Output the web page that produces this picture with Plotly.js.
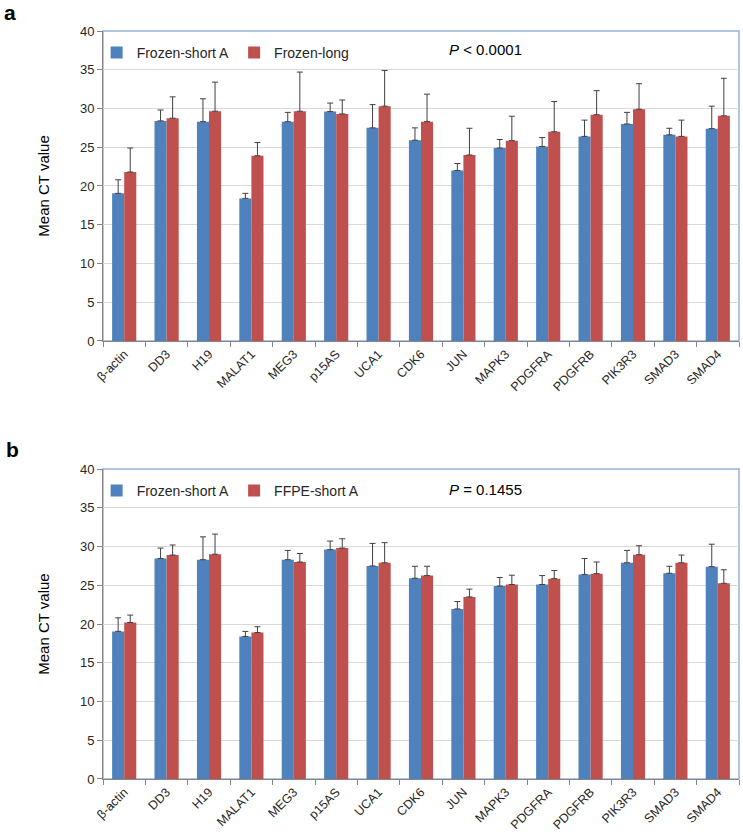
<!DOCTYPE html>
<html>
<head>
<meta charset="utf-8">
<script src="https://cdn.plot.ly/plotly-3.0.1.min.js"></script>
<style>html,body{margin:0;padding:0;background:#fff;}#chart{width:743px;height:832px;}</style>
</head>
<body>
<div id="chart"></div>
<script>
const genes = ["β-actin","DD3","H19","MALAT1","MEG3","p15AS","UCA1","CDK6","JUN","MAPK3","PDGFRA","PDGFRB","PIK3R3","SMAD3","SMAD4"];

// Panel a
const frozenShortA = [19.05,28.4,28.3,18.4,28.3,29.6,27.5,25.9,22.0,24.9,25.1,26.4,28.0,26.6,27.4];
const frozenShortA_err = [1.75,1.4,2.95,0.65,1.2,1.1,3.0,1.6,0.9,1.1,1.15,2.1,1.5,0.85,2.9];
const frozenLong = [21.8,28.75,29.65,23.9,29.65,29.3,30.3,28.3,24.0,25.85,27.0,29.2,29.9,26.4,29.05];
const frozenLong_err = [3.1,2.75,3.75,1.7,5.05,1.8,4.6,3.55,3.45,3.15,3.9,3.1,3.3,2.1,4.85];

// Panel b
const frozenShortB = [19.05,28.45,28.3,18.4,28.3,29.6,27.5,25.9,21.95,24.9,25.1,26.4,27.9,26.55,27.4];
const frozenShortB_err = [1.75,1.35,2.95,0.65,1.2,1.1,2.9,1.55,0.95,1.1,1.15,2.05,1.6,0.9,2.9];
const ffpeShortA = [20.2,28.9,29.0,18.9,28.0,29.8,27.9,26.25,23.5,25.1,25.85,26.5,28.95,27.9,25.25];
const ffpeShortA_err = [0.95,1.3,2.6,0.75,1.1,1.2,2.6,1.2,1.0,1.2,1.05,1.5,1.15,1.0,1.75];

const zeros = genes.map(() => 0);
const BLUE = "#4F81BD", RED = "#C0504D", ERR = "#404040";

function barTrace(y, err, name, color, xa, ya, legend) {
  return {
    type: "bar", x: genes, y: y, name: name, xaxis: xa, yaxis: ya, legend: legend,
    marker: {color: color, line: {width: 0}},
    error_y: {type: "data", symmetric: false, array: err, arrayminus: zeros,
              color: ERR, thickness: 1, width: 3}
  };
}

const data = [
  barTrace(frozenShortA, frozenShortA_err, "Frozen-short A", BLUE, "x", "y", "legend"),
  barTrace(frozenLong, frozenLong_err, "Frozen-long", RED, "x", "y", "legend"),
  barTrace(frozenShortB, frozenShortB_err, "Frozen-short A", BLUE, "x2", "y2", "legend2"),
  barTrace(ffpeShortA, ffpeShortA_err, "FFPE-short A", RED, "x2", "y2", "legend2")
];

const FONT = "Liberation Sans, Arial, sans-serif";
function xax(anchor) {
  return {
    anchor: anchor, domain: [0, 1], type: "category",
    showline: true, linecolor: "#868686", linewidth: 1,
    ticks: "outside", tickson: "boundaries", ticklen: 5, tickcolor: "#868686",
    tickangle: -45, tickfont: {family: FONT, size: 12.5, color: "#262626"},
    showgrid: false, automargin: false, fixedrange: true
  };
}
function yax(anchor, domain) {
  return {
    anchor: anchor, domain: domain, range: [0, 40], dtick: 5, tick0: 0,
    showline: true, linecolor: "#868686", linewidth: 1,
    ticks: "outside", ticklen: 5, tickcolor: "#868686",
    tickfont: {family: FONT, size: 13, color: "#262626"},
    showgrid: true, gridcolor: "#D9D9D9", gridwidth: 1, zeroline: false,
    title: {text: "Mean CT value", font: {family: FONT, size: 15, color: "#000"}, standoff: 26},
    automargin: false, fixedrange: true
  };
}

const layout = {
  width: 743, height: 832,
  margin: {l: 103, r: 4, t: 31, b: 53},
  paper_bgcolor: "#fff", plot_bgcolor: "#fff",
  font: {family: FONT},
  barmode: "group", bargap: 0.43, bargroupgap: 0,
  xaxis: xax("y"), yaxis: yax("x", [0.5856, 1]),
  xaxis2: xax("y2"), yaxis2: yax("x2", [0, 0.4144]),
  legend: {orientation: "h", x: -0.01, xanchor: "left", y: 0.9706, yanchor: "middle",
           bgcolor: "rgba(0,0,0,0)", font: {family: FONT, size: 14, color: "#262626"}, traceorder: "normal"},
  legend2: {orientation: "h", x: -0.01, xanchor: "left", y: 0.385, yanchor: "middle",
           bgcolor: "rgba(0,0,0,0)", font: {family: FONT, size: 14, color: "#262626"}, traceorder: "normal"},
  shapes: [
    {type: "rect", xref: "x domain", yref: "y domain", x0: 0, x1: 1, y0: 0, y1: 1,
     line: {color: "#95B3D7", width: 1.5}, layer: "below"},
    {type: "rect", xref: "x2 domain", yref: "y2 domain", x0: 0, x1: 1, y0: 0, y1: 1,
     line: {color: "#95B3D7", width: 1.5}, layer: "below"}
  ],
  annotations: [
    {text: "<i>P</i> < 0.0001", xref: "paper", yref: "paper", x: 0.602, y: 0.9746,
     xanchor: "center", yanchor: "middle", showarrow: false, font: {family: FONT, size: 15, color: "#000"}},
    {text: "<i>P</i> = 0.1455", xref: "paper", yref: "paper", x: 0.602, y: 0.3877,
     xanchor: "center", yanchor: "middle", showarrow: false, font: {family: FONT, size: 15, color: "#000"}},
    {text: "<b>a</b>", xref: "paper", yref: "paper", x: -0.147, y: 1.025,
     xanchor: "center", yanchor: "middle", showarrow: false, borderpad: 0, font: {family: FONT, size: 21, color: "#000"}},
    {text: "<b>b</b>", xref: "paper", yref: "paper", x: -0.143, y: 0.441,
     xanchor: "center", yanchor: "middle", showarrow: false, borderpad: 0, font: {family: FONT, size: 21, color: "#000"}}
  ]
};

Plotly.newPlot("chart", data, layout, {displayModeBar: false, staticPlot: true});
</script>
</body>
</html>
